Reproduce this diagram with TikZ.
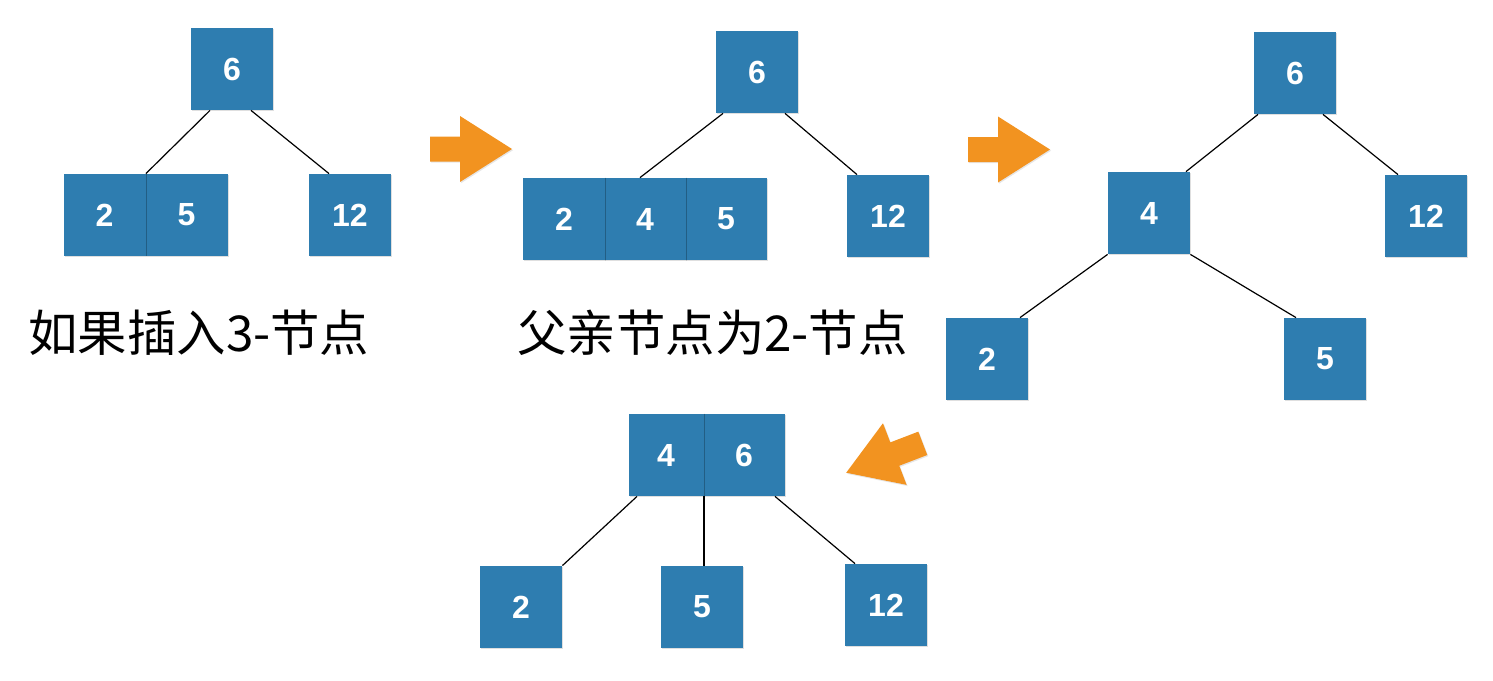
\documentclass[tikz,border=0pt]{standalone}
\usepackage{fontspec}
\setmainfont{Liberation Sans}
\newfontfamily\cjkfont{Noto Sans CJK SC}
\usetikzlibrary{shadows}
\definecolor{keyblue}{HTML}{2E7DB0}
\definecolor{movorange}{HTML}{F29320}

\begin{document}
\begin{tikzpicture}[
    x=0.5pt, y=-0.5pt,
    key/.style={rectangle, fill=keyblue, minimum width=41pt, minimum height=41pt, inner sep=0pt, text=white, font=\fontsize{16}{16}\selectfont\bfseries, drop shadow={shadow xshift=0.5pt, shadow yshift=-0.6pt, opacity=0.25}},
    seam/.style={line width=0.4pt, draw=keyblue!75!black},
    link/.style={line width=0.6pt, draw=black},
    caption/.style={font=\cjkfont\fontsize{24.7}{26}\selectfont, inner sep=0pt, anchor=west},
    movearrow/.pic={\fill[movorange, drop shadow={shadow xshift=0.5pt, shadow yshift=-0.6pt, opacity=0.2}] (-41,-12.5) -- (-11,-12.5) -- (-11,-33) -- (41,0) -- (-11,33) -- (-11,12.5) -- (-41,12.5) -- cycle;}
  ]
  \useasboundingbox (0,0) rectangle (1493,680);

  % inserting into a 3-node
  \node[key] (a6)  at (232,69)    {6};
  \node[key] (a2)  at (104.5,215) {2};
  \node[key] (a5)  at (186.5,215) {5};
  \node[key] (a12) at (350,215)   {12};
  \draw[seam] (a2.north east) -- (a2.south east);
  \draw[link] ([xshift=-11pt]a6.south) -- (a2.north east);
  \draw[link] ([xshift=9.5pt]a6.south) -- ([xshift=-10.5pt]a12.north);
  \node[caption] (cap1) at (28,333) {如果插入3-节点};

  \pic at (471,149) {movearrow};

  % temporary 4-node
  \node[key] (b6)  at (757,72)  {6};
  \node[key] (b2)  at (564,219) {2};
  \node[key] (b4)  at (645,219) {4};
  \node[key] (b5)  at (726,219) {5};
  \node[key] (b12) at (888,216) {12};
  \draw[seam] (b2.north east) -- (b2.south east);
  \draw[seam] (b4.north east) -- (b4.south east);
  \draw[link] ([xshift=-17pt]b6.south) -- ([xshift=-2.5pt]b4.north);
  \draw[link] ([xshift=14pt]b6.south) -- ([xshift=-15.5pt]b12.north);
  \node[caption] (cap2) at (517,333) {父亲节点为2-节点};

  \pic at (1009,149.5) {movearrow};

  % split
  \node[key] (c6)  at (1295,73)  {6};
  \node[key] (c4)  at (1149,213) {4};
  \node[key] (c12) at (1426,216) {12};
  \node[key] (c2)  at (987,359)  {2};
  \node[key] (c5)  at (1325,359) {5};
  \draw[link] ([xshift=-18.5pt]c6.south) -- ([xshift=18.5pt]c4.north);
  \draw[link] ([xshift=14pt]c6.south) -- ([xshift=-14pt]c12.north);
  \draw[link] (c4.south west) -- ([xshift=16.5pt]c2.north);
  \draw[link] (c4.south east) -- ([xshift=-14.5pt]c5.north);

  \pic[rotate=201] at (884.5,458) {movearrow};

  % merged into parent
  \node[key, minimum width=37.5pt] (d4) at (666,455) {4};
  \node[key] (d6)  at (744,455) {6};
  \node[key] (d2)  at (521,607) {2};
  \node[key] (d5)  at (702,607) {5};
  \node[key] (d12) at (886,605) {12};
  \draw[seam] (d4.north east) -- (d4.south east);
  \draw[link] ([xshift=-14.5pt]d4.south) -- (d2.north east);
  \draw[link, line width=1pt] (d4.south east) -- (d4.south east |- d5.north);
  \draw[link] ([xshift=15.5pt]d6.south) -- ([xshift=-15.5pt]d12.north);
\end{tikzpicture}
\end{document}
